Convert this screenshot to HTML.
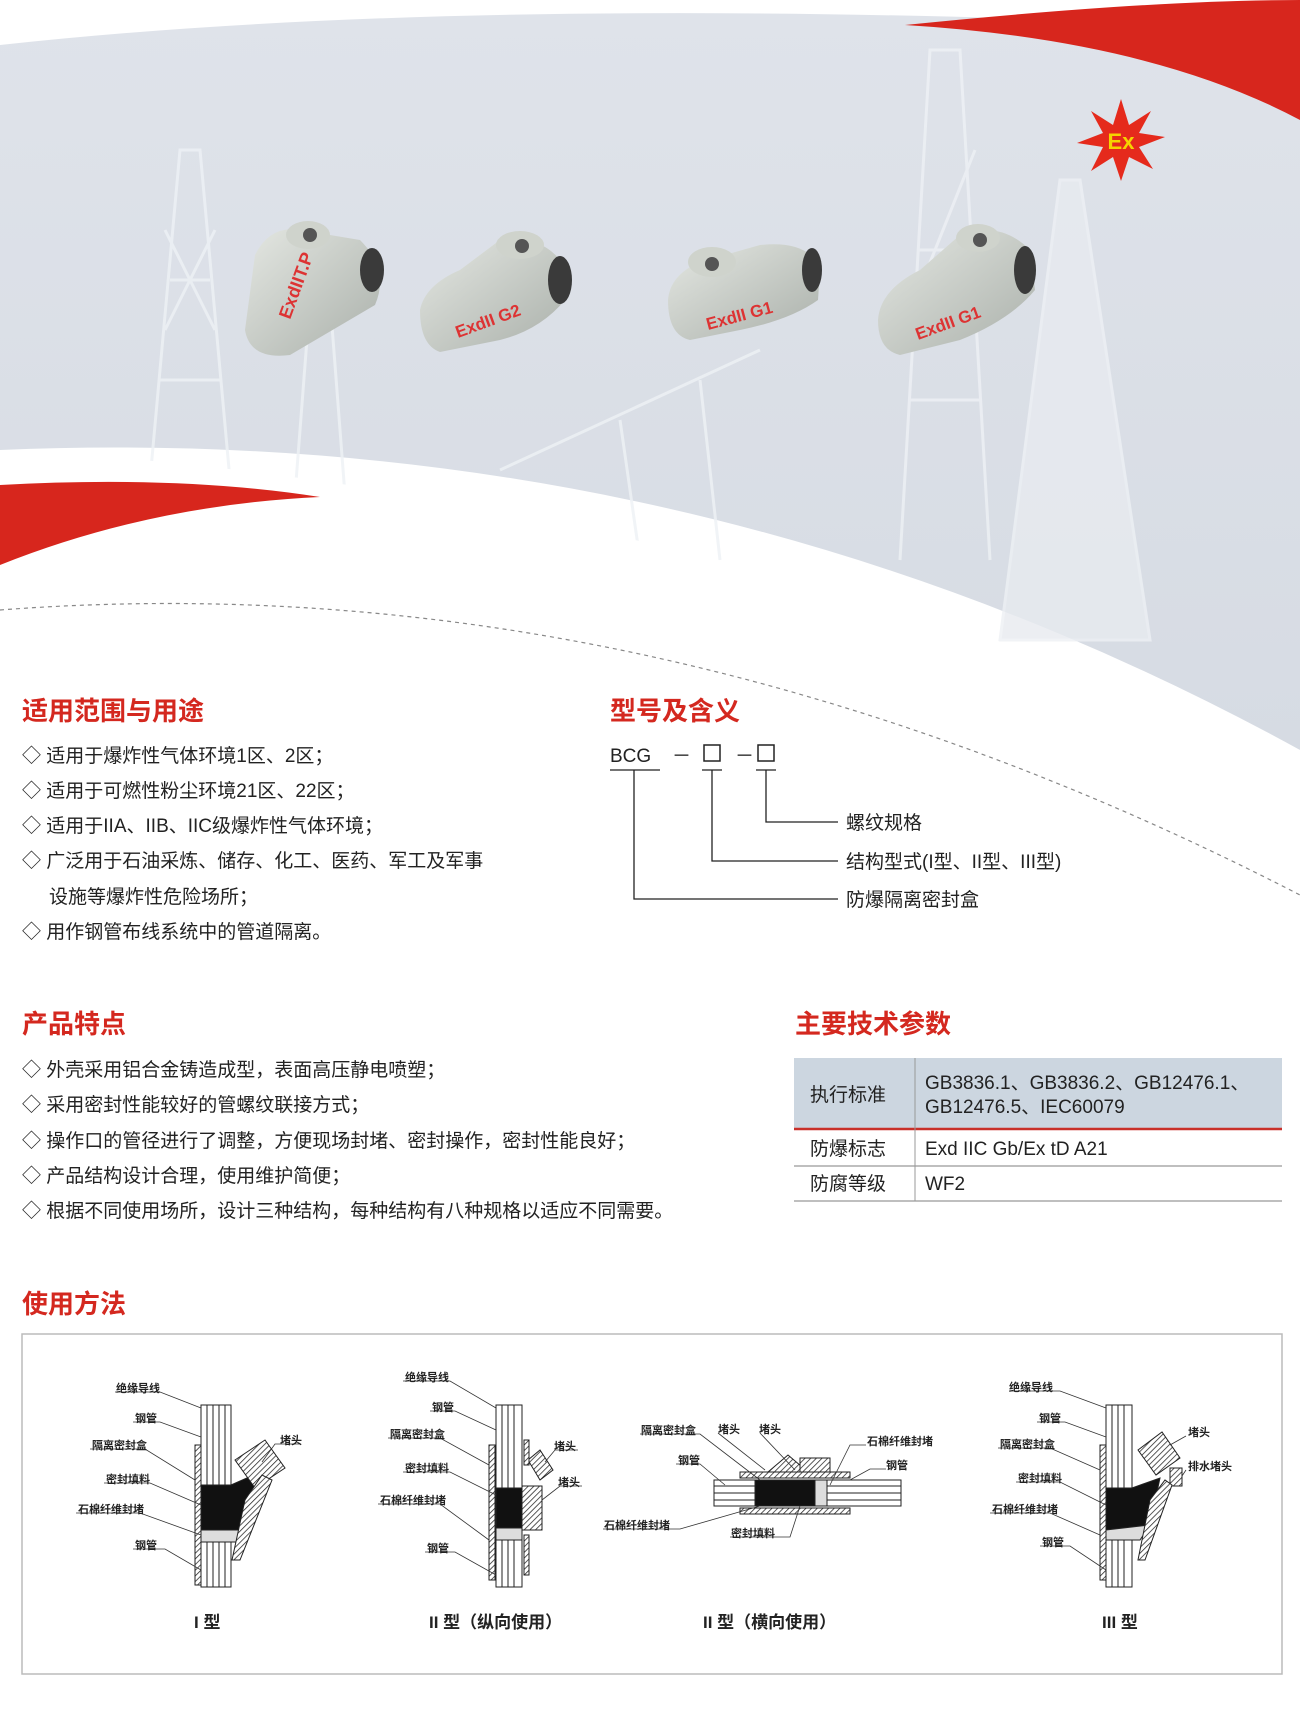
<!DOCTYPE html>
<html><head><meta charset="utf-8"><style>
html,body{margin:0;padding:0;background:#fff;}
svg{display:block;}
text{font-family:"Liberation Sans","Noto Sans CJK SC",sans-serif;}
</style></head><body>
<svg width="1300" height="1723" viewBox="0 0 1300 1723" xmlns="http://www.w3.org/2000/svg">
<defs>
<linearGradient id="bg" x1="0" y1="0" x2="0" y2="1"><stop offset="0" stop-color="#dfe3ea"/><stop offset="1" stop-color="#d6dbe3"/></linearGradient>
<linearGradient id="pr" x1="0" y1="0" x2="1" y2="1"><stop offset="0" stop-color="#e4e7e2"/><stop offset="1" stop-color="#aab0aa"/></linearGradient>
<pattern id="hatch" width="4" height="4" patternUnits="userSpaceOnUse" patternTransform="rotate(45)"><rect width="4" height="4" fill="#fff"/><line x1="0" y1="0" x2="0" y2="4" stroke="#222" stroke-width="1.5"/></pattern>
</defs>
<!-- hero background -->
<path d="M0,45 Q500,-10 1300,30 L1300,750 Q700,420 0,450 Z" fill="url(#bg)"/>
<!-- derricks faint -->
<g stroke="#eef1f5" stroke-width="3" fill="none" opacity="0.8">
<path d="M150,480 L180,150 L200,150 L230,480 M160,380 L220,380 M170,280 L210,280 M165,330 L215,230 M165,230 L215,330"/>
<path d="M900,560 L930,50 L960,50 L990,560 M910,400 L980,400 M918,250 L972,250 M915,300 L975,150"/>
<path d="M1000,640 L1060,180 L1080,180 L1150,640 Z" fill="#e8ebf0"/>
<path d="M500,470 L760,350 M620,420 L640,560 M700,380 L720,560"/>
<path d="M290,560 L310,300 L330,300 L350,560"/>
</g>
<!-- red swoosh top -->
<path d="M905,25 Q1150,0 1300,0 L1300,120 Q1150,40 905,25 Z" fill="#d7261d"/>
<!-- white lower curve -->
<path d="M0,450 Q620,480 1300,750 L1300,1723 L0,1723 Z" fill="#fff"/>
<!-- red swoosh left -->
<path d="M0,485 Q180,475 320,497 Q150,505 0,565 Z" fill="#d7261d"/>
<path d="M0,610 Q650,560 1300,895" stroke="#888" stroke-width="1.2" stroke-dasharray="4,4" fill="none"/>
<!-- Ex star -->
<g transform="translate(1121,141)">
<polygon points="0,-42 8,-16 30,-30 18,-8 44,-4 18,6 32,28 8,16 0,40 -8,16 -30,30 -18,6 -44,2 -18,-8 -30,-30 -8,-16" fill="#e52a1c"/>
<text x="0" y="8" font-size="22" font-weight="bold" fill="#f5d400" text-anchor="middle">Ex</text>
</g>
<!-- products -->
<g>
<path d="M245,330 L255,255 Q270,225 300,230 L360,240 Q390,270 375,305 L290,355 Q250,360 245,330Z" fill="url(#pr)"/>
<ellipse cx="308" cy="235" rx="22" ry="14" fill="#cfd3cc"/><circle cx="310" cy="235" r="7" fill="#555"/>
<ellipse cx="372" cy="270" rx="12" ry="22" fill="#3a3a3a"/>
<text x="290" y="320" font-size="18" fill="#d33" transform="rotate(-70 290 320)" font-weight="bold">ExdIIT.P</text>
<path d="M420,310 Q425,285 460,270 L500,240 Q540,235 560,260 L565,300 Q540,330 500,340 L440,352 Q420,345 420,310Z" fill="url(#pr)"/>
<ellipse cx="520" cy="245" rx="24" ry="14" fill="#cfd3cc"/><circle cx="522" cy="246" r="7" fill="#555"/>
<ellipse cx="560" cy="280" rx="12" ry="24" fill="#3a3a3a"/>
<text x="458" y="338" font-size="17" fill="#d33" transform="rotate(-20 458 338)" font-weight="bold">ExdII G2</text>
<path d="M668,300 Q670,275 700,262 L760,245 Q810,240 820,270 L818,300 Q790,320 740,330 L690,340 Q668,335 668,300Z" fill="url(#pr)"/>
<ellipse cx="712" cy="262" rx="24" ry="15" fill="#cfd3cc"/><circle cx="712" cy="264" r="7" fill="#555"/>
<ellipse cx="812" cy="270" rx="10" ry="22" fill="#3a3a3a"/>
<text x="708" y="330" font-size="17" fill="#d33" transform="rotate(-15 708 330)" font-weight="bold">ExdII G1</text>
<path d="M878,320 Q880,290 920,270 L960,235 Q1000,220 1030,250 L1035,290 Q1010,320 960,340 L900,355 Q878,350 878,320Z" fill="url(#pr)"/>
<ellipse cx="978" cy="238" rx="22" ry="14" fill="#cfd3cc"/><circle cx="980" cy="240" r="7" fill="#555"/>
<ellipse cx="1025" cy="270" rx="11" ry="24" fill="#3a3a3a"/>
<text x="918" y="340" font-size="17" fill="#d33" transform="rotate(-20 918 340)" font-weight="bold">ExdII G1</text>
</g>
<!-- section 1 -->
<g font-size="19" fill="#222">
<text x="22" y="720" font-size="26" fill="#d4281f" font-weight="bold">适用范围与用途</text>
<text x="22" y="762">◇ 适用于爆炸性气体环境1区、2区；</text>
<text x="22" y="797">◇ 适用于可燃性粉尘环境21区、22区；</text>
<text x="22" y="832">◇ 适用于IIA、IIB、IIC级爆炸性气体环境；</text>
<text x="22" y="867">◇ 广泛用于石油采炼、储存、化工、医药、军工及军事</text>
<text x="49" y="903">设施等爆炸性危险场所；</text>
<text x="22" y="938">◇ 用作钢管布线系统中的管道隔离。</text>
<text x="610" y="720" font-size="26" fill="#d4281f" font-weight="bold">型号及含义</text>
<text x="610" y="762">BCG</text>
<text x="672" y="762">－</text>
<rect x="704" y="745" width="16" height="16" fill="none" stroke="#222" stroke-width="1.5"/>
<text x="735" y="762">－</text>
<rect x="758" y="745" width="16" height="16" fill="none" stroke="#222" stroke-width="1.5"/>
<g stroke="#222" stroke-width="1.3" fill="none">
<line x1="610" y1="770" x2="660" y2="770"/><line x1="702" y1="770" x2="722" y2="770"/><line x1="756" y1="770" x2="776" y2="770"/>
<polyline points="766,770 766,822 838,822"/>
<polyline points="712,770 712,861 838,861"/>
<polyline points="634,770 634,899 838,899"/>
</g>
<text x="846" y="829">螺纹规格</text>
<text x="846" y="868">结构型式(I型、II型、III型)</text>
<text x="846" y="906">防爆隔离密封盒</text>
<!-- section 2 -->
<text x="22" y="1033" font-size="26" fill="#d4281f" font-weight="bold">产品特点</text>
<text x="22" y="1076">◇ 外壳采用铝合金铸造成型，表面高压静电喷塑；</text>
<text x="22" y="1111">◇ 采用密封性能较好的管螺纹联接方式；</text>
<text x="22" y="1147">◇ 操作口的管径进行了调整，方便现场封堵、密封操作，密封性能良好；</text>
<text x="22" y="1182">◇ 产品结构设计合理，使用维护简便；</text>
<text x="22" y="1217">◇ 根据不同使用场所，设计三种结构，每种结构有八种规格以适应不同需要。</text>
<text x="795" y="1033" font-size="26" fill="#d4281f" font-weight="bold">主要技术参数</text>
<rect x="794" y="1058" width="488" height="71" fill="#ccd6e0"/>
<line x1="794" y1="1129" x2="1282" y2="1129" stroke="#c9302a" stroke-width="2.5"/>
<line x1="794" y1="1166" x2="1282" y2="1166" stroke="#999" stroke-width="1.2"/>
<line x1="794" y1="1201" x2="1282" y2="1201" stroke="#999" stroke-width="1.2"/>
<line x1="915" y1="1058" x2="915" y2="1201" stroke="#999" stroke-width="1"/>
<text x="810" y="1101">执行标准</text>
<text x="925" y="1089">GB3836.1、GB3836.2、GB12476.1、</text>
<text x="925" y="1113">GB12476.5、IEC60079</text>
<text x="810" y="1155">防爆标志</text>
<text x="925" y="1155">Exd IIC Gb/Ex tD A21</text>
<text x="810" y="1190">防腐等级</text>
<text x="925" y="1190">WF2</text>
<text x="22" y="1313" font-size="26" fill="#d4281f" font-weight="bold">使用方法</text>
</g>
<rect x="22" y="1334" width="1260" height="340" fill="#fff" stroke="#bbb" stroke-width="1.5"/>
<!-- diagrams -->
<g stroke="#222" stroke-width="1" fill="#fff">
<rect x="195" y="1445" width="6" height="140" fill="url(#hatch)"/>
<rect x="201" y="1405" width="30" height="182"/>
<line x1="207" y1="1405" x2="207" y2="1587"/><line x1="213" y1="1405" x2="213" y2="1587"/><line x1="219" y1="1405" x2="219" y2="1587"/><line x1="225" y1="1405" x2="225" y2="1587"/>
<path d="M201,1485 L231,1485 L265,1470 L250,1530 L201,1530 Z" fill="#111"/>
<path d="M201,1530 L250,1530 L240,1542 L201,1542Z" fill="#ddd"/>
<polygon points="235,1460 265,1440 285,1468 255,1488" fill="url(#hatch)"/>
<polygon points="245,1500 262,1475 272,1480 240,1560 232,1560" fill="url(#hatch)"/>
<rect x="489" y="1445" width="6" height="135" fill="url(#hatch)"/>
<rect x="496" y="1405" width="26" height="182"/>
<line x1="502" y1="1405" x2="502" y2="1587"/><line x1="508" y1="1405" x2="508" y2="1587"/><line x1="514" y1="1405" x2="514" y2="1587"/>
<rect x="496" y="1488" width="26" height="40" fill="#111"/>
<rect x="496" y="1528" width="26" height="12" fill="#ddd"/>
<rect x="522" y="1486" width="20" height="44" fill="url(#hatch)"/>
<polygon points="528,1460 540,1450 553,1470 540,1480" fill="url(#hatch)"/>
<rect x="524" y="1440" width="5" height="25" fill="url(#hatch)"/><rect x="524" y="1535" width="5" height="40" fill="url(#hatch)"/>
<rect x="714" y="1480" width="187" height="26"/>
<line x1="714" y1="1486" x2="901" y2="1486"/><line x1="714" y1="1493" x2="901" y2="1493"/><line x1="714" y1="1500" x2="901" y2="1500"/>
<rect x="755" y="1480" width="60" height="26" fill="#111"/>
<rect x="815" y="1480" width="12" height="26" fill="#ddd"/>
<rect x="740" y="1472" width="110" height="6" fill="url(#hatch)"/>
<rect x="740" y="1508" width="110" height="6" fill="url(#hatch)"/>
<polygon points="768,1472 788,1455 808,1472" fill="url(#hatch)"/>
<rect x="800" y="1458" width="30" height="14" fill="url(#hatch)"/>
<rect x="1100" y="1445" width="6" height="135" fill="url(#hatch)"/>
<rect x="1106" y="1405" width="26" height="182"/>
<line x1="1112" y1="1405" x2="1112" y2="1587"/><line x1="1118" y1="1405" x2="1118" y2="1587"/><line x1="1124" y1="1405" x2="1124" y2="1587"/>
<path d="M1106,1488 L1132,1488 L1160,1478 L1150,1525 L1106,1530Z" fill="#111"/>
<path d="M1106,1530 L1150,1525 L1140,1540 L1106,1540Z" fill="#ddd"/>
<polygon points="1138,1450 1162,1432 1180,1458 1156,1475" fill="url(#hatch)"/>
<rect x="1170" y="1468" width="12" height="18" fill="url(#hatch)"/>
<polygon points="1150,1500 1165,1480 1172,1485 1145,1560 1138,1560" fill="url(#hatch)"/>
</g>
<g stroke="#333" stroke-width="0.8" fill="none">
<polyline points="115,1392 160,1392 201,1408"/><polyline points="133,1422 160,1422 201,1437"/>
<polyline points="90,1449 145,1449 195,1480"/><polyline points="104,1483 150,1483 201,1505"/>
<polyline points="76,1513 140,1513 201,1535"/><polyline points="133,1549 165,1549 201,1570"/>
<polyline points="300,1444 275,1444 262,1462"/>
<polyline points="403,1381 450,1381 496,1408"/><polyline points="430,1411 455,1411 496,1430"/>
<polyline points="388,1438 440,1438 489,1465"/><polyline points="403,1472 450,1472 496,1495"/>
<polyline points="378,1504 440,1504 489,1540"/><polyline points="425,1552 455,1552 496,1575"/>
<polyline points="578,1450 555,1450 545,1462"/><polyline points="582,1486 560,1486 542,1500"/>
<polyline points="640,1434 700,1434 760,1480"/><polyline points="718,1433 765,1470"/><polyline points="760,1433 795,1470"/>
<polyline points="676,1464 700,1464 725,1485"/><polyline points="866,1445 850,1445 830,1485"/>
<polyline points="886,1469 870,1469 850,1480"/><polyline points="603,1529 680,1529 760,1506"/>
<polyline points="730,1537 790,1537 800,1506"/>
<polyline points="1009,1391 1060,1391 1106,1408"/><polyline points="1037,1422 1065,1422 1106,1437"/>
<polyline points="998,1448 1050,1448 1100,1470"/><polyline points="1016,1482 1060,1482 1106,1505"/>
<polyline points="990,1513 1050,1513 1100,1535"/><polyline points="1040,1546 1070,1546 1106,1570"/>
<polyline points="1186,1436 1170,1445"/><polyline points="1186,1470 1182,1476"/>
</g>
<g font-size="11" font-weight="bold" fill="#222">
<text x="116" y="1392">绝缘导线</text><text x="135" y="1422">钢管</text><text x="92" y="1449">隔离密封盒</text>
<text x="106" y="1483">密封填料</text><text x="78" y="1513">石棉纤维封堵</text><text x="135" y="1549">钢管</text><text x="280" y="1444">堵头</text>
<text x="405" y="1381">绝缘导线</text><text x="432" y="1411">钢管</text><text x="390" y="1438">隔离密封盒</text>
<text x="405" y="1472">密封填料</text><text x="380" y="1504">石棉纤维封堵</text><text x="427" y="1552">钢管</text>
<text x="554" y="1450">堵头</text><text x="558" y="1486">堵头</text>
<text x="641" y="1434">隔离密封盒</text><text x="718" y="1433">堵头</text><text x="759" y="1433">堵头</text>
<text x="678" y="1464">钢管</text><text x="867" y="1445">石棉纤维封堵</text><text x="886" y="1469">钢管</text>
<text x="604" y="1529">石棉纤维封堵</text><text x="731" y="1537">密封填料</text>
<text x="1009" y="1391">绝缘导线</text><text x="1039" y="1422">钢管</text><text x="1000" y="1448">隔离密封盒</text>
<text x="1018" y="1482">密封填料</text><text x="992" y="1513">石棉纤维封堵</text><text x="1042" y="1546">钢管</text>
<text x="1188" y="1436">堵头</text><text x="1188" y="1470">排水堵头</text>
</g>
<g font-size="17" font-weight="bold" fill="#222">
<text x="194" y="1628">I 型</text>
<text x="429" y="1628">II 型（纵向使用）</text>
<text x="703" y="1628">II 型（横向使用）</text>
<text x="1102" y="1628">III 型</text>
</g>
</svg>
</body></html>
